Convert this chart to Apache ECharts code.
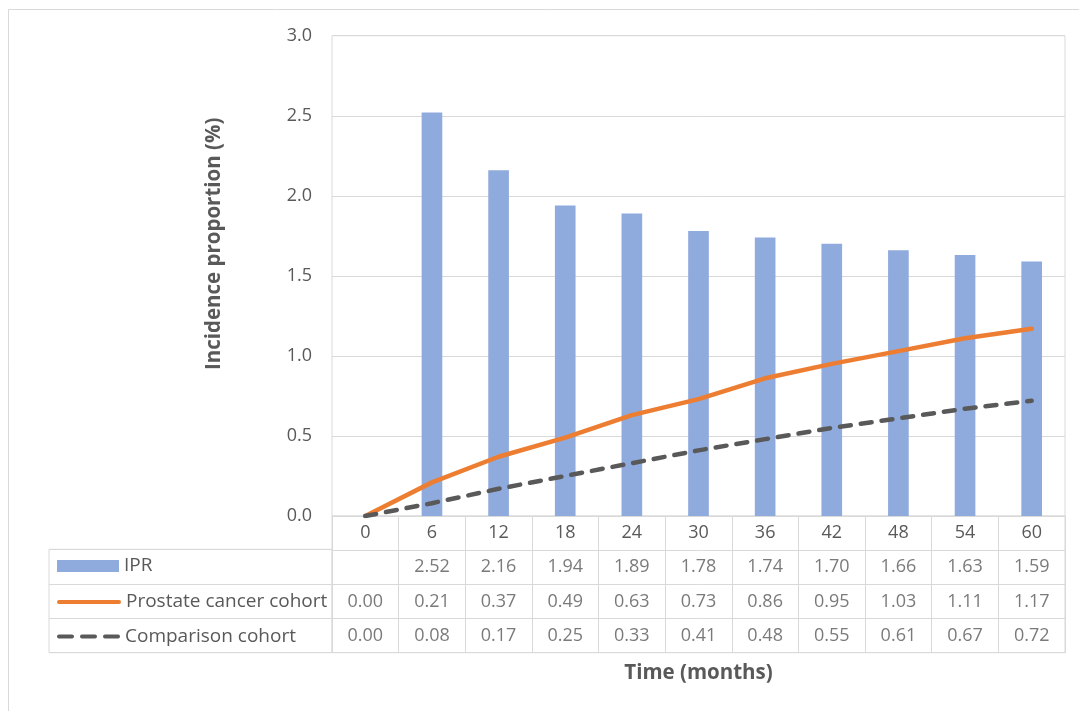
<!DOCTYPE html>
<html>
<head>
<meta charset="utf-8">
<script src="https://cdn.jsdelivr.net/npm/echarts@6/dist/echarts.min.js"></script>
<style>
html,body{margin:0;padding:0;background:#fff;}
#chart{width:1079px;height:711px;}
</style>
</head>
<body>
<div id="chart"></div>
<script>
var categories = ['0','6','12','18','24','30','36','42','48','54','60'];
var iprValues = [null, 2.52, 2.16, 1.94, 1.89, 1.78, 1.74, 1.70, 1.66, 1.63, 1.59];
var prostateValues = [0.00, 0.21, 0.37, 0.49, 0.63, 0.73, 0.86, 0.95, 1.03, 1.11, 1.17];
var comparisonValues = [0.00, 0.08, 0.17, 0.25, 0.33, 0.41, 0.48, 0.55, 0.61, 0.67, 0.72];
var seriesNames = ['IPR', 'Prostate cancer cohort', 'Comparison cohort'];
var yTicks = {min: 0, max: 3, interval: 0.5};

var FONT = '"Open Sans"';
var TXT = '#595959';
var GRID = '#d9d9d9';
var FS = 18;
var FS_LEG = 19;
var FS_TITLE = 20.5;

var tableCells = [];
[iprValues, prostateValues, comparisonValues].forEach(function (arr, r) {
  arr.forEach(function (v, c) {
    if (v !== null && v !== undefined) tableCells.push([c, r + 1, v.toFixed(2)]);
  });
});

var chart = echarts.init(document.getElementById('chart'), null, {renderer: 'canvas'});
var legendBase = {
  orient: 'horizontal', left: 57, padding: 0, itemGap: 0,
  textStyle: {color: TXT, fontSize: FS_LEG, fontFamily: FONT},
  selectedMode: false
};
chart.setOption({
  animation: false,
  textStyle: {fontFamily: FONT},
  graphic: [{
    type: 'rect', silent: true, z: -10,
    shape: {x: 8.5, y: 9.5, width: 1200, height: 900},
    style: {fill: 'none', stroke: GRID, lineWidth: 1}
  }],
  legend: [
    Object.assign({}, legendBase, {data: [{name: seriesNames[0], icon: 'rect'}], top: 556.5, itemWidth: 62, itemHeight: 12}),
    Object.assign({}, legendBase, {data: [{name: seriesNames[1], icon: 'path://M2,0 L62,0 A2,2 0 0 1 62,4 L2,4 A2,2 0 0 1 2,0 Z'}], top: 592.5, itemWidth: 64, itemHeight: 5}),
    Object.assign({}, legendBase, {data: [{name: seriesNames[2], icon: 'path://M2,0 L15,0 A2,2 0 0 1 15,4 L2,4 A2,2 0 0 1 2,0 Z M25,0 L38,0 A2,2 0 0 1 38,4 L25,4 A2,2 0 0 1 25,0 Z M48,0 L61,0 A2,2 0 0 1 61,4 L48,4 A2,2 0 0 1 48,0 Z'}], top: 627, itemWidth: 63, itemHeight: 5})
  ],
  grid: [
    {left: 332, right: 14, top: 35.7, bottom: 195, show: true, borderColor: GRID, borderWidth: 1, containLabel: false},
    {left: 332, right: 14, top: 516, bottom: 58.3, show: true, borderColor: GRID, borderWidth: 1},
    {left: 49, width: 283, top: 549.3, bottom: 58.3, show: true, borderColor: GRID, borderWidth: 1}
  ],
  xAxis: [
    {
      type: 'category', gridIndex: 0, data: categories,
      axisLine: {lineStyle: {color: GRID}}, axisTick: {show: false},
      axisLabel: {color: TXT, fontSize: FS, fontFamily: FONT, margin: 8},
      splitLine: {show: false}
    },
    {
      type: 'category', gridIndex: 1, data: categories,
      axisLine: {show: false}, axisTick: {show: false}, axisLabel: {show: false},
      splitLine: {show: true, interval: 0, lineStyle: {color: GRID, width: 1}},
      name: 'Time (months)', nameLocation: 'middle', nameGap: 10,
      nameTextStyle: {color: TXT, fontSize: FS_TITLE, fontWeight: 'bold', fontFamily: FONT}
    },
    {
      type: 'value', gridIndex: 2, show: false
    }
  ],
  yAxis: [
    {
      type: 'value', gridIndex: 0, min: yTicks.min, max: yTicks.max, interval: yTicks.interval,
      axisLine: {show: false}, axisTick: {show: false},
      axisLabel: {color: TXT, fontSize: FS, fontFamily: FONT, margin: 20, formatter: function (v) { return v.toFixed(1); }},
      splitLine: {lineStyle: {color: GRID, width: 1}},
      name: 'Incidence proportion (%)', nameLocation: 'middle', nameGap: 107, nameRotate: 90,
      nameTextStyle: {color: TXT, fontSize: FS_TITLE, fontWeight: 'bold', fontFamily: FONT, padding: [0, 0, 0, 64]}
    },
    {
      type: 'category', gridIndex: 1, inverse: true, data: [''].concat(seriesNames),
      axisLine: {show: false}, axisTick: {show: false}, axisLabel: {show: false},
      splitLine: {show: true, interval: 0, lineStyle: {color: GRID, width: 1}}
    },
    {
      type: 'category', gridIndex: 2, inverse: true, data: seriesNames,
      axisLine: {show: false}, axisTick: {show: false}, axisLabel: {show: false},
      splitLine: {show: true, interval: 0, lineStyle: {color: GRID, width: 1}}
    }
  ],
  series: [
    {
      name: seriesNames[0], type: 'bar', xAxisIndex: 0, yAxisIndex: 0,
      data: iprValues, barWidth: '31%', itemStyle: {color: '#8FAADC'}
    },
    {
      name: seriesNames[1], type: 'line', xAxisIndex: 0, yAxisIndex: 0,
      data: prostateValues, symbol: 'none', z: 3,
      lineStyle: {color: '#ED7D31', width: 4.5, cap: 'round', join: 'round'}, itemStyle: {color: '#ED7D31'}
    },
    {
      name: seriesNames[2], type: 'line', xAxisIndex: 0, yAxisIndex: 0,
      data: comparisonValues, symbol: 'none', z: 3,
      lineStyle: {color: '#595959', width: 4.5, type: [11, 10], cap: 'round'}, itemStyle: {color: '#595959'}
    },
    {
      name: 'table', type: 'scatter', xAxisIndex: 1, yAxisIndex: 1,
      data: tableCells, symbolSize: 0, itemStyle: {color: 'transparent'}, silent: true,
      label: {show: true, position: 'inside', color: TXT, fontSize: FS, fontFamily: FONT,
        formatter: function (p) { return p.value[2]; }}
    }
  ]
});
</script>
</body>
</html>
